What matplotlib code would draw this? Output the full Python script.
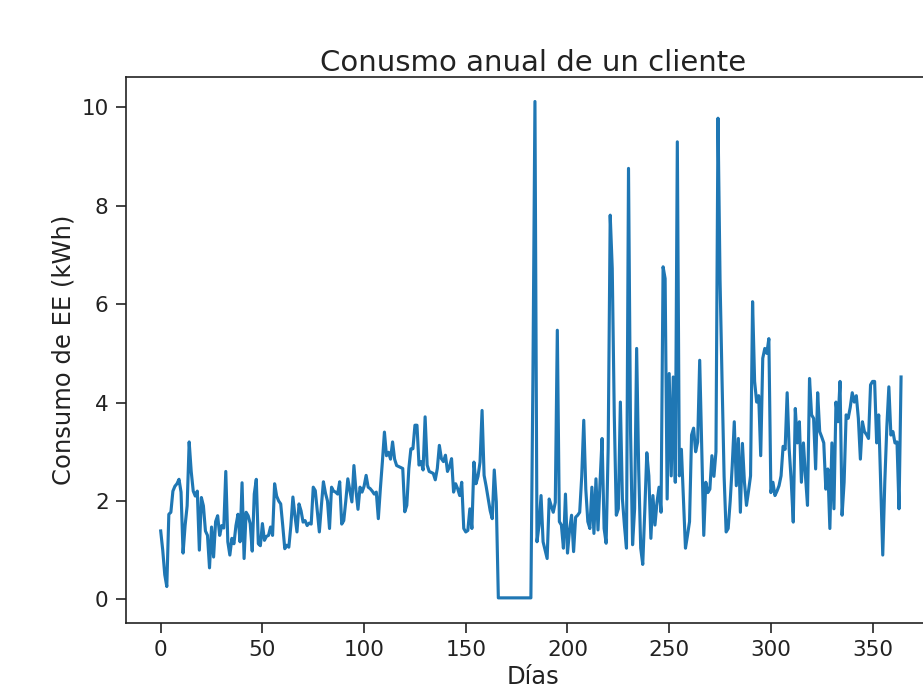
import numpy as np
import matplotlib
matplotlib.use("Agg")
import matplotlib.pyplot as plt

titulo = "Conusmo anual de un cliente"
etiqueta_x = "Días"
etiqueta_y = "Consumo de EE (kWh)"

consumo = [
    1.39, 1.0, 0.5, 0.26, 1.73, 1.77, 2.2, 2.3, 2.35, 2.44,
    2.18, 0.94, 1.5, 1.9, 3.2, 2.6, 2.2, 2.1, 2.2, 1.0,
    2.07, 1.9, 1.39, 1.3, 0.64, 1.47, 0.86, 1.58, 1.7, 1.3,
    1.5, 1.45, 2.6, 1.17, 0.9, 1.24, 1.13, 1.5, 1.73, 1.17,
    2.37, 0.83, 1.77, 1.7, 1.54, 0.98, 2.14, 2.44, 1.13, 1.09,
    1.54, 1.2, 1.28, 1.3, 1.47, 1.3, 2.35, 2.1, 2.0, 1.94,
    1.5, 1.03, 1.1, 1.06, 1.5, 2.08, 1.7, 1.37, 1.94, 1.8,
    1.57, 1.6, 1.5, 1.55, 1.53, 2.28, 2.21, 1.8, 1.37, 1.9,
    2.39, 2.16, 2.0, 1.44, 2.28, 2.2, 2.18, 2.14, 2.39, 1.53,
    1.6, 2.0, 2.45, 2.21, 1.98, 2.72, 2.21, 1.83, 2.28, 2.18,
    2.3, 2.52, 2.28, 2.25, 2.2, 2.14, 2.18, 1.64, 2.25, 2.8,
    3.4, 2.92, 2.99, 2.85, 3.2, 2.85, 2.72, 2.7, 2.68, 2.66,
    1.78, 1.91, 2.66, 3.06, 3.06, 3.54, 3.54, 2.73, 2.8, 2.63,
    3.71, 2.73, 2.6, 2.58, 2.56, 2.43, 2.66, 3.13, 2.86, 2.8,
    2.93, 2.6, 2.7, 2.86, 2.18, 2.35, 2.25, 2.11, 2.38, 1.44,
    1.37, 1.4, 1.84, 1.44, 2.79, 2.35, 2.5, 2.79, 3.84, 2.52,
    2.3, 2.05, 1.8, 1.64, 2.63, 1.98, 0.03, 0.03, 0.03, 0.03,
    0.03, 0.03, 0.03, 0.03, 0.03, 0.03, 0.03, 0.03, 0.03, 0.03,
    0.03, 0.03, 0.03, 4.5, 10.12, 1.17, 1.5, 2.11, 1.17, 1.0,
    0.83, 2.04, 1.9, 1.77, 1.97, 5.47, 1.58, 1.51, 1.04, 2.14,
    0.94, 1.4, 1.71, 0.97, 1.67, 1.71, 1.77, 2.5, 3.64, 2.24,
    1.58, 1.44, 2.28, 1.34, 2.45, 1.41, 2.38, 3.27, 1.44, 1.14,
    3.07, 7.81, 6.73, 3.75, 1.71, 1.84, 4.01, 2.04, 1.5, 1.04,
    8.76, 3.41, 1.11, 1.84, 5.1, 2.65, 1.04, 0.71, 1.8, 2.98,
    2.51, 1.24, 2.11, 1.51, 1.97, 2.28, 1.77, 6.76, 6.52, 2.04,
    4.59, 2.51, 4.52, 2.38, 9.3, 2.51, 3.05, 2.04, 1.04, 1.3,
    1.58, 3.34, 3.48, 3.0, 3.2, 4.86, 3.11, 1.3, 2.38, 2.17,
    2.24, 2.92, 2.5, 3.0, 9.78, 6.5, 4.43, 2.5, 1.37, 1.44,
    2.0, 2.72, 3.61, 2.31, 3.27, 1.77, 3.17, 2.38, 1.91, 2.2,
    2.51, 6.05, 4.43, 4.01, 4.14, 2.92, 4.9, 5.1, 5.0, 5.3,
    2.17, 2.38, 2.11, 2.2, 2.31, 2.51, 3.11, 3.05, 4.2, 3.05,
    2.4, 1.57, 3.88, 3.18, 3.61, 2.38, 3.18, 2.51, 1.91, 4.49,
    3.75, 3.68, 2.65, 4.2, 3.41, 3.3, 3.18, 2.24, 2.65, 1.44,
    3.18, 1.84, 4.01, 3.61, 4.43, 1.71, 2.38, 3.75, 3.68, 3.9,
    4.2, 4.01, 4.14, 3.68, 2.85, 3.61, 3.41, 3.35, 3.27, 4.36,
    4.43, 4.43, 3.18, 3.75, 2.3, 0.9, 2.38, 3.5, 4.32, 3.34,
    3.41, 3.18, 3.2, 1.84, 4.52,
]
dias = np.arange(len(consumo))

x_ticks = [0, 50, 100, 150, 200, 250, 300, 350]
y_ticks = [0, 2, 4, 6, 8, 10]

plt.rcParams['font.family'] = ['DejaVu Sans']
fig = plt.figure(figsize=(9.23, 6.86), dpi=100)
ax = fig.add_axes([0.1362, 0.0923, 0.8819, 0.7959])
ax.plot(dias, consumo, color='#1f77b4', linewidth=2.25)
ax.set_xlim(-17.2, 383.0)
ax.set_xticks(x_ticks)
ax.set_yticks(y_ticks)
ax.tick_params(axis='both', labelsize=15.5, length=7, width=1.2, pad=5.25, colors='#222222')
for s in ax.spines.values():
    s.set_linewidth(1.2)
    s.set_color('#222222')
ax.set_title(titulo, fontsize=21, pad=2, color='#222222')
ax.set_xlabel(etiqueta_x, fontsize=17.5, color='#222222')
ax.set_ylabel(etiqueta_y, fontsize=17.5, color='#222222')
fig.savefig('out.png', dpi=100)
